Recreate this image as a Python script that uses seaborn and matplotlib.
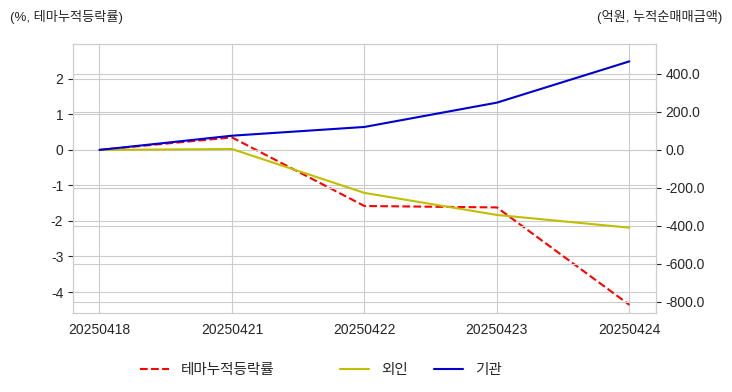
import matplotlib
matplotlib.use("Agg")
import matplotlib.pyplot as plt
import seaborn as sns
from matplotlib.ticker import FormatStrFormatter

# data
dates = ["20250418", "20250421", "20250422", "20250423", "20250424"]
theme_rate = [0.0, 0.35, -1.58, -1.62, -4.36]      # %, 테마누적등락률
foreign_net = [0.0, 5.0, -226.0, -342.0, -409.0]   # 억원, 외인
inst_net = [0.0, 75.0, 121.0, 249.0, 466.0]        # 억원, 기관

sns.set_style("whitegrid")
plt.rcParams['font.family'] = ['Liberation Sans', 'Noto Sans CJK KR', 'DejaVu Sans']
plt.rcParams['axes.unicode_minus'] = False

fig = plt.figure(figsize=(7.32, 3.92), dpi=100)
ax1 = fig.add_axes([0.0997, 0.2015, 0.7963, 0.6865])
ax2 = ax1.twinx()

sns.lineplot(x=dates, y=theme_rate, ax=ax1, color='r', linestyle='--',
             linewidth=1.5, label='테마누적등락률', sort=False)
sns.lineplot(x=dates, y=foreign_net, ax=ax2, color='y',
             linewidth=1.5, label='외인', sort=False)
sns.lineplot(x=dates, y=inst_net, ax=ax2, color='mediumblue',
             linewidth=1.5, label='기관', sort=False)

ax1.set_xlim(-0.2, 4.2)
ax1.set_ylim(-4.59, 2.98)
ax1.set_yticks([-4, -3, -2, -1, 0, 1, 2])
ax2.set_ylim(-858, 558)
ax2.set_yticks([-800, -600, -400, -200, 0, 200, 400])
ax2.yaxis.set_major_formatter(FormatStrFormatter('%.1f'))

for a in (ax1, ax2):
    a.tick_params(labelsize=10, colors='#262626')
    a.set_xlabel('')
    a.set_ylabel('')

ax1.legend(loc='center', bbox_to_anchor=(0.283, 0.056), bbox_transform=fig.transFigure,
           frameon=False, fontsize=10.5)
ax2.legend(loc='center', bbox_to_anchor=(0.575, 0.056), bbox_transform=fig.transFigure,
           frameon=False, fontsize=10.5, ncol=2, columnspacing=1.8)

fig.text(0.014, 0.957, '(%, 테마누적등락률)', fontsize=9.5, ha='left', va='center', color='#262626')
fig.text(0.986, 0.957, '(억원, 누적순매매금액)', fontsize=9.5, ha='right', va='center', color='#262626')

fig.savefig('out.png', dpi=100)
